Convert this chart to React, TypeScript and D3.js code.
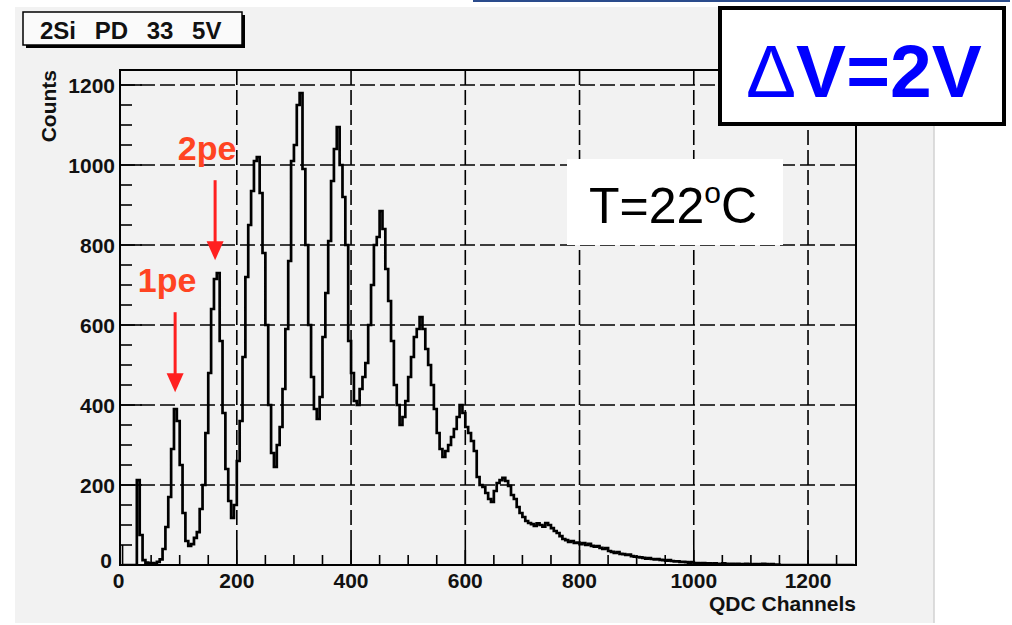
import React, { useEffect, useRef } from "react";
import * as d3 from "d3";

// QDC spectrum, 5-channel bins starting at channel 0
const binWidth = 5;
const counts = [
  0, 0, 0, 0, 0,
  212, 75, 12, 6, 4,
  5, 3, 8, 14, 40,
  95, 170, 290, 390, 360,
  250, 130, 60, 48, 52,
  68, 82, 140, 200, 330,
  480, 640, 715, 730, 560,
  380, 240, 160, 118, 150,
  260, 360, 520, 720, 850,
  935, 1010, 1020, 930, 780,
  600, 400, 280, 245, 300,
  345, 440, 590, 760, 1010,
  1050, 1150, 1180, 990, 800,
  600, 470, 390, 365, 420,
  570, 680, 810, 960, 1040,
  1095, 1000, 920, 800, 560,
  480, 410, 400, 440, 470,
  505, 600, 700, 800, 820,
  885, 840, 740, 660, 560,
  450, 400, 350, 370, 410,
  470, 520, 570, 590, 620,
  590, 540, 500, 450, 390,
  330, 290, 270, 285, 300,
  320, 340, 370, 400, 380,
  345, 330, 310, 285, 220,
  200, 195, 180, 165, 158,
  185, 205, 212, 218, 210,
  198, 175, 165, 145, 130,
  120, 110, 105, 102, 98,
  104, 100, 96, 105, 100,
  92, 85, 80, 72, 65,
  62, 58, 60, 55, 56,
  52, 55, 50, 53, 48,
  46, 47, 43, 40, 42,
  35, 33, 30, 32, 28,
  27, 25, 26, 22, 21,
  20, 19, 18, 16, 17,
  15, 14, 15, 13, 12,
  11, 12, 10, 9, 9,
  8, 8, 7, 6, 7,
  5, 5, 4, 5, 4,
  4, 3, 4, 3, 3,
  4, 3, 2, 3, 2,
  3, 2, 2, 3, 2,
  1, 2, 1, 2, 3,
  2, 1, 2, 1, 1,
  0, 0, 0, 0, 0, 0, 0, 0, 0, 0, 0, 0, 0,
  0, 0, 0, 0, 0, 0, 0, 0, 0, 0, 0, 0, 0,
];

const xTicks = [0, 200, 400, 600, 800, 1000, 1200];
const yTicks = [0, 200, 400, 600, 800, 1000, 1200];
const minorStep = 50;

const peakMarks = [
  { label: "1pe", channel: 92, tip: 432 },
  { label: "2pe", channel: 162, tip: 762 },
];

const W = 1012;
const H = 625;
const frame = { left: 120, right: 856, top: 70, bottom: 565 };
const FONT = "'Liberation Sans', Arial, Helvetica, sans-serif";

export default function App() {
  const ref = useRef<SVGSVGElement>(null);

  useEffect(() => {
    drawSpectrum(ref.current);
  }, []);

  return (
    <div style={{ position: "absolute", left: 0, top: 0, width: W, height: H, background: "#fff" }}>
      <svg ref={ref} width={W} height={H} style={{ display: "block" }} />
    </div>
  );
}

function drawSpectrum(node: SVGSVGElement | null) {
  if (!node) return;
  while (node.firstChild) node.removeChild(node.firstChild);
  const svg = d3.select(node);

  // canvas
  svg.append("rect").attr("width", W).attr("height", H).attr("fill", "#fff");
  svg.append("rect").attr("x", 15).attr("y", 7).attr("width", 919).attr("height", 616).attr("fill", "#f2f2f2");
  svg.append("line").attr("x1", 934).attr("x2", 934).attr("y1", 7).attr("y2", 623)
    .attr("stroke", "#d2d2d2").attr("stroke-width", 1.5);
  svg.append("line").attr("x1", 473).attr("x2", 1010).attr("y1", 1).attr("y2", 1)
    .attr("stroke", "#2b4c8c").attr("stroke-width", 2);

  const x = d3.scaleLinear().domain([-4.5, 1284]).range([frame.left, frame.right]);
  const y = d3.scaleLinear().domain([0, 1237.5]).range([frame.bottom, frame.top]);

  svg.append("defs").append("clipPath").attr("id", "plotclip")
    .append("rect").attr("x", frame.left).attr("y", frame.top)
    .attr("width", frame.right - frame.left).attr("height", frame.bottom - frame.top);

  // dashed grid
  const grid = svg.append("g").attr("stroke", "#000").attr("stroke-width", 1.6).attr("stroke-dasharray", "15,5");
  grid.selectAll(".gx").data(xTicks.filter((d) => d > 0)).join("line")
    .attr("x1", (d) => x(d)).attr("x2", (d) => x(d))
    .attr("y1", frame.bottom).attr("y2", frame.top);
  grid.selectAll(".gy").data(yTicks.filter((d) => d > 0)).join("line")
    .attr("y1", (d) => y(d)).attr("y2", (d) => y(d))
    .attr("x1", frame.left).attr("x2", frame.right);

  // ticks (inside the frame)
  const xMinor = d3.range(0, 1281, minorStep);
  const yMinor = d3.range(0, 1237, minorStep);
  const ticks = svg.append("g").attr("stroke", "#000").attr("stroke-width", 1.6);
  ticks.selectAll(".tx").data(xMinor).join("line")
    .attr("x1", (d) => x(d)).attr("x2", (d) => x(d))
    .attr("y1", frame.bottom).attr("y2", (d) => frame.bottom - (d % 200 === 0 ? 20 : 10));
  ticks.selectAll(".ty").data(yMinor).join("line")
    .attr("y1", (d) => y(d)).attr("y2", (d) => y(d))
    .attr("x1", frame.left).attr("x2", (d) => frame.left + (d % 200 === 0 ? 22 : 12));

  // histogram
  const pts: [number, number][] = counts.map((c, i) => [i * binWidth, c]);
  pts.push([counts.length * binWidth, 0]);
  const line = d3.line<[number, number]>()
    .x((d) => x(d[0]))
    .y((d) => y(d[1]))
    .curve(d3.curveStepAfter);
  svg.append("path")
    .attr("clip-path", "url(#plotclip)")
    .attr("d", line(pts))
    .attr("fill", "none")
    .attr("stroke", "#000")
    .attr("stroke-width", 2.7)
    .attr("stroke-linejoin", "miter");

  // frame
  svg.append("rect").attr("x", frame.left).attr("y", frame.top)
    .attr("width", frame.right - frame.left).attr("height", frame.bottom - frame.top)
    .attr("fill", "none").attr("stroke", "#000").attr("stroke-width", 2);

  // tick labels
  const lab = svg.append("g").attr("font-family", FONT).attr("font-weight", "bold")
    .attr("font-size", 21).attr("fill", "#111");
  lab.selectAll(".lx").data(xTicks).join("text")
    .attr("x", (d) => x(d) - (d === 0 ? 4 : 0)).attr("y", 588)
    .attr("text-anchor", "middle").text((d) => d);
  lab.selectAll(".ly").data(yTicks).join("text")
    .attr("x", (d) => (d === 0 ? 112 : 115)).attr("y", (d) => y(d) - (d === 0 ? 5 : 0))
    .attr("dy", "0.36em").attr("text-anchor", "end").text((d) => d);

  // axis titles
  svg.append("text").attr("x", frame.right).attr("y", 611)
    .attr("text-anchor", "end").attr("font-family", FONT).attr("font-weight", "bold")
    .attr("font-size", 21).attr("fill", "#111").text("QDC Channels");
  svg.append("text").attr("transform", `translate(56,${frame.top}) rotate(-90)`)
    .attr("text-anchor", "end").attr("font-family", FONT).attr("font-weight", "bold")
    .attr("font-size", 21).attr("fill", "#111").text("Counts");

  // title box with shadow
  svg.append("rect").attr("x", 26).attr("y", 15).attr("width", 219).attr("height", 33).attr("fill", "#000");
  svg.append("rect").attr("x", 23).attr("y", 12).attr("width", 219).attr("height", 33)
    .attr("fill", "#fafafa").attr("stroke", "#000").attr("stroke-width", 1.5);
  svg.append("text").attr("x", 40).attr("y", 39).attr("font-family", FONT).attr("font-weight", "bold")
    .attr("font-size", 24).attr("word-spacing", 12).attr("fill", "#111").text("2Si PD 33 5V");

  // photo-electron peak markers
  const marks = svg.append("g");
  peakMarks.forEach((m) => {
    const px = x(m.channel);
    const tipY = y(m.tip);
    const tailY = tipY - 80;
    marks.append("line").attr("x1", px).attr("x2", px).attr("y1", tailY).attr("y2", tipY - 16)
      .attr("stroke", "#ff2020").attr("stroke-width", 3);
    marks.append("path")
      .attr("d", `M${px - 8.5},${tipY - 19}L${px + 8.5},${tipY - 19}L${px},${tipY}Z`)
      .attr("fill", "#ff2020");
    marks.append("text").attr("x", px - 8).attr("y", tailY - 20)
      .attr("text-anchor", "middle").attr("font-family", FONT).attr("font-weight", "bold")
      .attr("font-size", 34).attr("fill", "#ff4422").text(m.label);
  });

  // temperature box
  svg.append("rect").attr("x", 567).attr("y", 159).attr("width", 216).attr("height", 86).attr("fill", "#fff");
  const t = svg.append("text").attr("x", 589).attr("y", 223).attr("font-family", FONT)
    .attr("font-size", 50).attr("fill", "#000");
  t.append("tspan").text("T=22");
  t.append("tspan").attr("font-size", 30).attr("dy", -20).text("o");
  t.append("tspan").attr("dy", 20).text("C");

  // voltage box
  svg.append("rect").attr("x", 720).attr("y", 8).attr("width", 284).attr("height", 116)
    .attr("fill", "#fff").attr("stroke", "#000").attr("stroke-width", 4);
  const v = svg.append("text").attr("x", 746).attr("y", 97).attr("font-family", FONT)
    .attr("font-size", 75).attr("fill", "#0000ff");
  v.append("tspan").attr("font-weight", "normal").text("\u0394");
  v.append("tspan").attr("font-weight", "bold").text("V=2V");
}
